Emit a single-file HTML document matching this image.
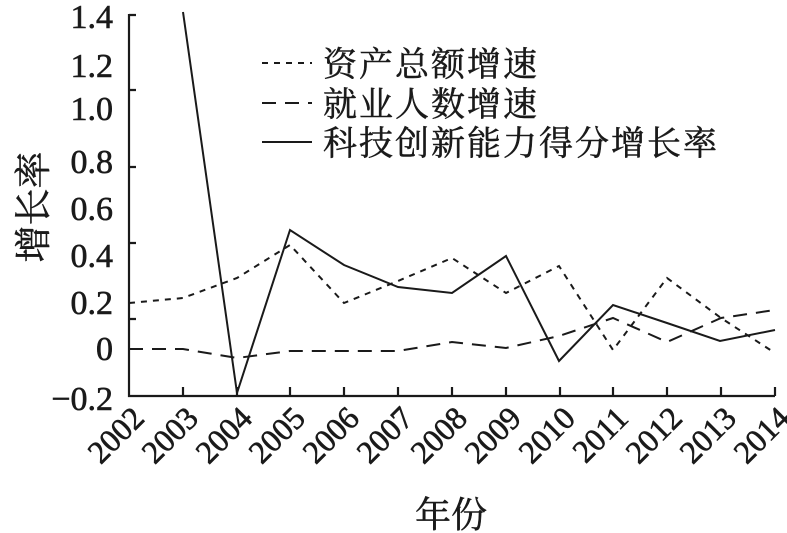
<!DOCTYPE html>
<html><head><meta charset="utf-8"><style>body{margin:0;background:#fff}svg{display:block}</style></head>
<body>
<svg width="787" height="533" viewBox="0 0 787 533" xmlns="http://www.w3.org/2000/svg" font-family="'Liberation Serif','Noto Serif CJK SC',serif" fill="#1a1a1a">
<g stroke="#1a1a1a" stroke-width="2.2" fill="none">
<path d="M129 14V396H775"/>
<path d="M129 15h7M129 90h7M129 167h7M129 243h7M129 319h7"/>
<path d="M183 396v-9M237 396v-9M290 396v-9M344 396v-9M398 396v-9M452 396v-9M506 396v-9M560 396v-9M613 396v-9M667 396v-9M721 396v-9M775 396v-9"/>
</g>
<g fill="none" stroke="#1a1a1a" stroke-width="2">
<polyline points="183,12 237,393 290,230 344,265 398,287 452,293 506,256 559,361 613,305 667,323 720,341 775,330"/>
<polyline stroke-dasharray="6,6" points="129,303 183,298 237,278 290,245 344,303 398,281 452,258 506,293 559,266 613,350 667,278 721,318 775,353"/>
<polyline stroke-dasharray="14,9" points="129,349 183,349 237,358 290,351 344,351 398,351 452,342 506,348 559,336 613,318 667,342 721,318 775,310"/>
<path d="M262 63h50" stroke-dasharray="6,6"/>
<path d="M262 103h50" stroke-dasharray="14,9"/>
<path d="M262 142h50"/>
</g>
<g font-size="34" text-anchor="end" stroke="#1a1a1a" stroke-width="0.6">
<text x="113" y="28">1.4</text><text x="113" y="77">1.2</text><text x="113" y="120">1.0</text>
<text x="113" y="173">0.8</text><text x="113" y="220">0.6</text><text x="113" y="267">0.4</text>
<text x="113" y="314">0.2</text><text x="113" y="360">0</text><text x="113" y="410">−0.2</text>
</g>
<g font-size="32" text-anchor="end" stroke="#1a1a1a" stroke-width="0.6">
<text transform="translate(146,420) rotate(-45)">2002</text>
<text transform="translate(200,420) rotate(-45)">2003</text>
<text transform="translate(254,420) rotate(-45)">2004</text>
<text transform="translate(307,420) rotate(-45)">2005</text>
<text transform="translate(361,420) rotate(-45)">2006</text>
<text transform="translate(415,420) rotate(-45)">2007</text>
<text transform="translate(469,420) rotate(-45)">2008</text>
<text transform="translate(523,420) rotate(-45)">2009</text>
<text transform="translate(577,420) rotate(-45)">2010</text>
<text transform="translate(630,420) rotate(-45)">2011</text>
<text transform="translate(684,420) rotate(-45)">2012</text>
<text transform="translate(738,420) rotate(-45)">2013</text>
<text transform="translate(792,420) rotate(-45)">2014</text>
</g>
<g font-family="'Noto Serif CJK SC',serif" font-size="34" stroke="#1a1a1a" stroke-width="0.5">
<text x="323" y="76" letter-spacing="2">资产总额增速</text>
<text x="323" y="116" letter-spacing="2">就业人数增速</text>
<text x="323" y="155" letter-spacing="2">科技创新能力得分增长率</text>
<text x="451" y="527" text-anchor="middle" font-size="36">年份</text>
<text transform="translate(46,207) rotate(-90)" text-anchor="middle" font-size="37">增长率</text>
</g>
</svg>
</body></html>
